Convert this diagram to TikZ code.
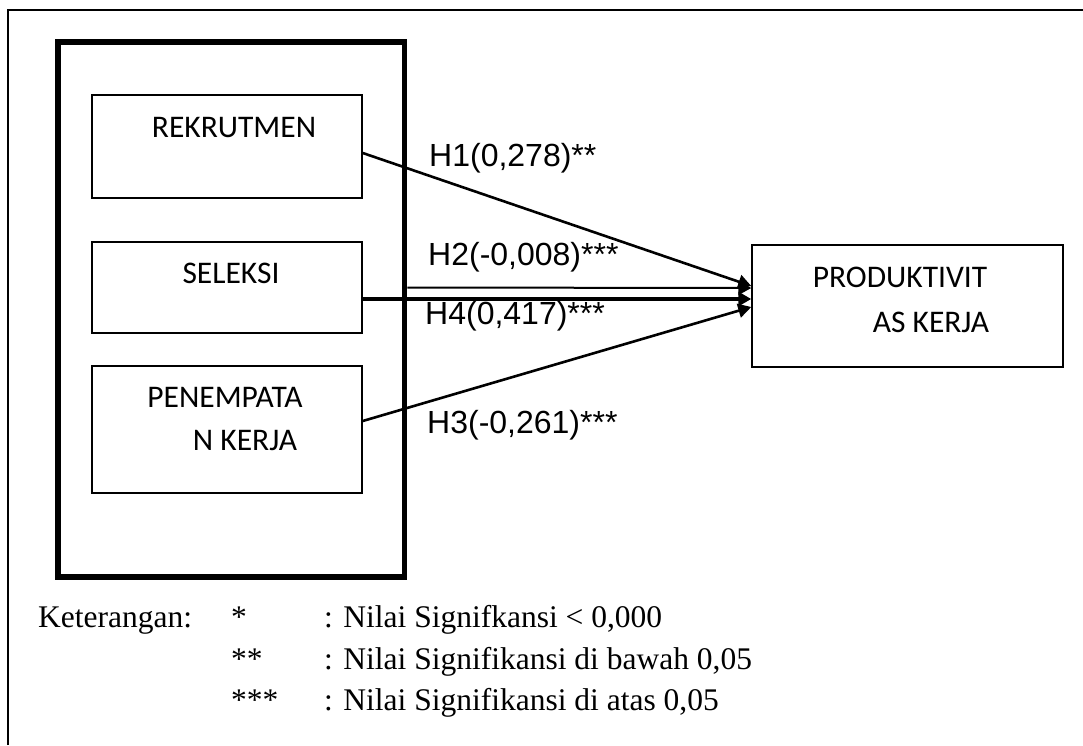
\documentclass[tikz,border=0pt]{standalone}
\usepackage{fontspec}
\setmainfont{Liberation Serif}
\newfontfamily\boxfont{Carlito}
\newfontfamily\hfont{Liberation Sans}
\usetikzlibrary{arrows.meta,positioning}

\begin{document}
\begin{tikzpicture}[x=1pt,y=-1pt,
    varbox/.style={draw,line width=1.5pt,minimum width=270pt,inner sep=0pt},
    boxtext/.style={font=\boxfont\fontsize{31.5}{36}\selectfont,inner sep=0pt},
    hlabel/.style={font=\hfont\fontsize{32}{38}\selectfont,inner sep=0pt,anchor=west},
    legtext/.style={font=\fontsize{31.5}{36}\selectfont,inner sep=0pt,anchor=base west},
    path/.style={line width=2.6pt,-{Triangle[length=13pt,width=14pt]}}]
    \useasboundingbox (0,0) rectangle (1083,745);

    % Frame of the page
    \draw[line width=1.5pt] (8,745) -- (8,10) -- (1083,10);

    % Group of independent variables
    \node[draw,line width=5.5pt,minimum width=346.5pt,minimum height=535pt,inner sep=0pt]
      (grp) at (231.25,309.5) {};

    % Variable boxes
    \node[varbox,minimum height=103pt] (rek) at (227,146.5) {};
    \node[varbox,minimum height=91pt] (sel) at (227,287.5) {};
    \node[varbox,minimum height=127pt] (pen) at (227,429.5) {};
    \node[varbox,minimum width=311pt,minimum height=122pt] (prod) at (907.5,306) {};

    \node[boxtext] (rekt) at (234,128) {REKRUTMEN};
    \node[boxtext] (selt) at (231,273) {SELEKSI};
    \node[boxtext] (pent1) at (225,397) {PENEMPATA};
    \node[boxtext] (pent2) at (245,440) {N KERJA};
    \node[boxtext] (prodt1) at (900,277) {PRODUKTIVIT};
    \node[boxtext] (prodt2) at (931,322) {AS KERJA};

    % Hypothesis paths
    \draw[path] ([yshift=-6.5pt]rek.east) -- ([yshift=20pt]prod.west);
    \draw[path,line width=2pt] (sel.east -| grp.east) -- ([yshift=18pt]prod.west);
    \draw[path,line width=4.5pt] ([yshift=-11.5pt]sel.east) -- ([yshift=7pt]prod.west);
    \draw[path] ([yshift=8.5pt]pen.east) -- ([yshift=-1pt]prod.west);

    \node[hlabel] (h1) at (429,158) {H1(0,278)**};
    \node[hlabel] (h2) at (428,257) {H2(-0,008)***};
    \node[hlabel] (h4) at (425,316) {H4(0,417)***};
    \node[hlabel] (h3) at (427,425) {H3(-0,261)***};

    % Legend
    \node[legtext] (ket) at (38,627) {Keterangan:};
    \node[legtext] (s1) at (231,627) {*};
    \node[legtext] (s2) at (231,669) {**};
    \node[legtext] (s3) at (231,710) {***};
    \node[legtext] (k1) at (324,627) {: Nilai Signifkansi < 0,000};
    \node[legtext] (k2) at (324,669) {: Nilai Signifikansi di bawah 0,05};
    \node[legtext] (k3) at (324,710) {: Nilai Signifikansi di atas 0,05};
\end{tikzpicture}
\end{document}
